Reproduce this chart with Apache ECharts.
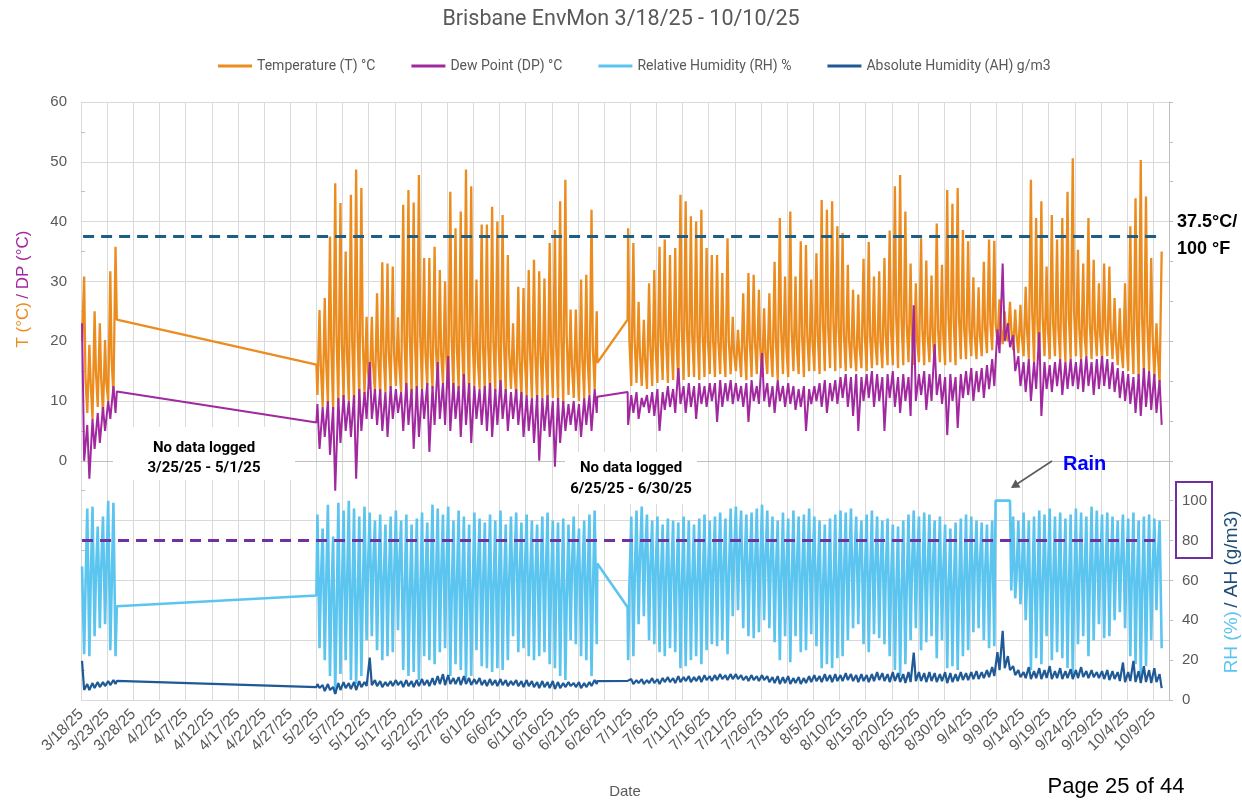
<!DOCTYPE html>
<html>
<head>
<meta charset="utf-8">
<script src="https://cdn.jsdelivr.net/npm/echarts@6/dist/echarts.min.js"></script>
<style>
html,body{margin:0;padding:0;background:#fff;}
#main{width:1242px;height:801px;}
</style>
</head>
<body>
<div id="main"></div>
<script>
// ---- x axis tick labels (every 5 days from 3/18/25) ----
const dateLabels = ['3/18/25','3/23/25','3/28/25','4/2/25','4/7/25','4/12/25','4/17/25','4/22/25','4/27/25','5/2/25',
  '5/7/25','5/12/25','5/17/25','5/22/25','5/27/25','6/1/25','6/6/25','6/11/25','6/16/25','6/21/25',
  '6/26/25','7/1/25','7/6/25','7/11/25','7/16/25','7/21/25','7/26/25','7/31/25','8/5/25','8/10/25',
  '8/15/25','8/20/25','8/25/25','8/30/25','9/4/25','9/9/25','9/14/25','9/19/25','9/24/25','9/29/25',
  '10/4/25','10/9/25'];

// logged segments: first day index (days since 3/18/25)
const segStart = [0, 45, 104];

// Temperature: daily highs, early-morning lows, evening readings (°C)
const tempHigh = [
  [30.8,19.4,25,23,20.2,31.7,35.8],
  [25.2,27.2,37.5,46.4,43.1,35,44.5,48.7,45.6,24.1, 24.1,28,33.2,33,32.5,24,42.8,45.3,43.2,47.8,
   33.9,33.9,35.8,31.9,30,45,38.9,41.7,48.7,45.9, 30.3,39.5,39.5,42.5,40,41.1,34.4,23,29.1,28.9,
   31.9,33.6,31.7,30.5,36.4,38.6,43.4,47,25.3,25.3, 30.3,31.1,42,25],
  [38.9,36.4,26.6,23.6,29.7,31.9,35.8,37,34.4,35.6, 44.5,43.4,40.9,40,42,35.6,34.4,34.4,31.4,37.2,
   24.1,21.9,28,31.4,31.1,28.6,25.5,28,33.3,40.6, 30.8,41.7,30.8,36.7,36.1,30.3,34.7,43.6,42,43.4,
   39.2,38.1,32.8,28.6,27.8,33.8,36.6,30.8,31.7,33.9, 38.5,45.9,47.8,41.7,33,29.7,37.2,33.5,31,39.7,
   32.8,45.3,43,45.6,38.6,36.7,30.7,29,33.3,37, 36.8,27,25,26.6,25.3,26.1,29.1,47,40.6,43.4,
   32.5,41.1,37,40.6,45,50.6,35.3,33,40.6,33.6, 29.7,33,32.5,27.2,25.5,29.7,39.2,43.9,50.3,44.2,
   33.9,23,35]
];
const tempLow = [
  [20,8,7,9,8,10,11],
  [11,9,9.5,8.5,9.5,10.5,10,9.5,10,11, 12,11.5,11,11.5,12,12.5,11.5,11,11,10.5,
   12,12.5,12,12.5,13,12,11.5,12,11,11, 12.5,12,11.5,11,11.5,11,11.5,12,11,10.5,
   11,10.5,10,10.5,10,10.5,10,9.5,11,10.5, 10,10.5,11,12],
  [null,12.5,13,12.5,12,12.5,13,13.5,13,13.5, 13,13.5,14,14,13.5,14,14.5,14,14.5,14,
   14.5,15,14,13.5,14,14.5,14,14.5,14,13.5, 14.5,14,15,14.5,14,15,15,14.5,15,15.5,
   15,15.5,15,15.5,15,15.5,15,15.5,16,15.5, 16,16,15.5,16,16.5,16,16.5,16,16.5,16,
   16.5,16,16.5,16,17,17,17.5,17,17.5,18, 18.5,20,19.5,20,18.5,18,17.5,17,16.5,17,
   17.5,17,17.5,17,16.5,17,17.5,17,17.5,17, 17.5,17,17.5,17,16,15.5,15,14.5,14,14.5,
   15,14,13]
];
const tempEve = [
  [14,13,15,14,13,17,null],
  [16,17,19,21,20,18,20,22,21,15, 16,17,18,18,18,16,20,21,20,21,
   18,18,19,18,17,21,19,20,22,21, 17,19,19,20,19,20,18,15,17,17,
   18,18,18,17,19,19,20,21,16,16, 17,17,19,null],
  [20,20,18,17,19,19,20,20,20,20, 22,22,21,21,21,20,20,20,19,20,
   18,18,19,20,20,19,18,19,20,22, 19,22,19,21,21,20,21,23,22,23,
   22,21,20,19,19,21,21,20,20,21, 22,24,24,23,21,20,22,21,21,22,
   21,24,23,24,22,22,21,21,22,23, 23,22,21,22,21,21,22,25,23,24,
   22,23,22,23,24,25,22,21,23,22, 21,22,22,20,19,20,22,23,24,23,
   21,18,null]
];
const tempGapEnds = [[6.85,23.6],[45.0,16.1],[98.7,16.4],[104.5,23.6]];

// Dew point daily highs / lows (°C)
const dewHigh = [
  [23,6,7,8,9,10,12.5],
  [9.5,9,10,9,10.5,11,10,11,12,11.5, 16.5,12,12,11.5,12.5,12,11.5,13,12,12.5,
   12,13,12.5,16.5,13,17.5,13,12.5,14.5,13, 12.5,12,12.5,13,12,13.5,12,11.5,12,11.5,
   11,10.5,11,10.5,11,10,10.5,10,9.5,10, 9.5,10.5,11,12],
  [null,11,11.5,10.5,11,11.5,12,11.5,12.5,12, 15.5,12.5,13,12.5,13,12.5,13,13,13.5,13,
   13.5,13,12.5,13,13.5,12.5,18,13,12.5,13.5, 12.5,13,12.5,12,12.5,12,12.5,13,13.5,13,
   13.5,14,14.5,14,14.5,14,14.5,15,14.5,14, 14.5,15,14,14.5,14,26,14.5,15,14.5,19.5,
   14.5,14,14.5,14,14.5,15,15.5,15,15.5,16, 17,22,33,23,21,17.5,16.5,17,16.5,21.5,
   16.5,16,16.5,17,16.5,17,16.5,17,17.5,16.5, 17,17.5,17,16.5,15.5,15,14.5,14,14.5,15.5,
   15,14.5,13.5]
];
const dewLow = [
  [0,-3,2,3,5,7,8],
  [2,4,1,-5,3,5,4,-3,5,7, 7,6,5,4,7,8,5,6,2,4,
   7,1.5,6,7,6,5,7,4,6,3, 7,6,5,4,6,7,5,7,6,4,
   5,3,0,5,4,-1,3,5,6,5, 4,6,5,8],
  [6,8,7,9,8,7.5,5,8.5,9,8, 9.5,8,9,7,9.5,9,10,6.5,9,10,
   9.5,10,9,6.5,10,9.5,10,9,8,10, 9,9.5,8.5,9,5,9.5,10,9,8,10,
   9.5,10.5,9,7.5,5,10,10.5,9,10,5, 10.5,9,8,10,7.5,10,11,8.5,10,11,
   9.5,4.3,10,5.5,10.5,11,10,11.5,10.5,12, 12.5,18,20,19,15,12.5,11.5,10,12,7.5,
   12,11.5,12.5,11,12,12.5,12,11.5,12.5,11, 12,12.5,12,11.5,10.5,10,9.5,8,7.5,9,
   8.5,8,6]
];
const dewGapEnds = [[6.85,11.6],[45.0,6.4],[98.7,10.7],[104.5,11.5]];

// Relative humidity: daily highs, afternoon lows, evening readings (%)
const rhHigh = [
  [67,96,97,87,92,100,99],
  [93,86,98,82,99,95,100,96,92,97, 94,90,93,88,92,95,90,93,88,91,
   94,89,98,96,93,97,90,95,92,88, 94,91,89,93,90,95,88,92,94,89,
   93,90,88,92,94,90,89,91,88,92, 86,90,93,95],
  [null,92,95,97,93,90,92,88,91,90, 89,92,90,88,91,93,90,92,94,91,
   96,97,95,93,94,96,98,95,92,90, 94,91,95,92,93,96,92,90,88,91,
   93,95,94,96,92,90,93,95,92,90, 91,88,87,90,93,95,92,94,93,90,
   92,88,86,89,91,93,92,90,89,88, 90,100,100,100,92,90,94,90,92,95,
   93,96,92,94,91,93,96,94,92,97, 95,93,94,92,90,93,91,94,90,92,
   93,91,90]
];
const rhLow = [
  [23,22,32,36,38,25,22],
  [26,20,12,3,13,20,10,8,12,30, 32,25,20,22,24,35,15,12,14,10,
   22,20,18,24,26,12,18,15,10,12, 25,17,16,14,16,15,20,32,24,26,
   22,20,22,24,18,16,12,10,30,28, 22,20,12,28],
  [20,22,38,42,30,28,24,22,26,24, 16,17,20,22,18,25,28,27,30,23,
   42,45,36,32,31,34,40,36,29,20, 32,19,32,24,25,33,27,16,18,16,
   21,22,30,36,38,28,24,33,31,28, 22,15,12,18,30,36,25,29,32,21,
   30,16,17,15,22,25,34,36,30,26, 27,100,100,100,51,48,40,15,21,18,
   32,20,24,21,16,12,28,32,22,30, 38,31,32,40,44,36,22,18,12,17,
   30,45,26]
];
const rhEve = [
  [55,58,62,65,64,55,null],
  [58,55,48,40,50,55,50,45,50,65, 66,60,58,60,60,68,52,50,52,48,
   60,60,58,62,64,50,56,54,48,50, 62,56,56,54,55,54,58,68,62,64,
   60,60,60,62,56,55,52,48,66,66, 62,60,52,null],
  [58,60,70,72,66,64,60,60,62,60, 54,55,58,58,56,62,63,64,66,60,
   72,74,68,66,65,66,70,68,64,58, 66,56,66,60,62,66,62,54,55,54,
   58,60,64,68,70,62,60,66,65,63, 58,52,50,55,64,68,60,63,65,58,
   64,54,55,52,58,60,66,68,64,62, 100,100,100,55,62,60,58,54,56,55,
   62,56,58,56,54,52,60,62,58,62, 66,62,63,66,68,64,58,56,52,55,
   62,70,null]
];
const rhGapEnds = [[6.85,47],[45.0,52.4],[98.7,68.5],[104.5,46.5]];

// Absolute humidity daily highs / lows (g/m3)
const ahHigh = [
  [19.6,8,8.5,9,9,9.5,10],
  [8,7.5,8,6.5,8.5,9,8.5,9,9.5,9, 21.3,10,9.5,9,9.5,10,9.5,10,9.5,10,
   10.5,10,11,12,13,12.5,11,11.5,12,11, 10.5,11,10,10.5,10,10.5,10,9.5,10,9.5,
   10,9.5,9,9.5,9,9.5,9,8.5,9,8.5, 9,8.5,9,10],
  [null,10.5,10,10.5,10,11,10.5,11,11.5,11, 12,11.5,12,11.5,12,12.5,12,12.5,13,12.5,
   13,13,12.5,12,12.5,12,12.5,12,11.5,12, 11.5,12,11,11.5,11,12,12.5,12,13,12.5,
   13,12.5,13.5,13,12.5,13,12.5,13,14,13.5, 13,14,13.5,13,14,23.8,14,13.5,14,13.5,
   13,14,13.5,13,14,13.5,14,14.5,14,15, 16.5,24,34.7,22,17,15,14,16.5,14.5,16,
   15,17,14.5,16,14.5,15.5,15,16.5,14.5,15, 14,14.5,15,14.5,14,18.8,14,19.6,14.5,17,
   15,16,13]
];
const ahLow = [
  [5,5,6,6.5,7,7.5,8],
  [6,4.5,5,3,5,6,5.5,5,6.5,7, 7.5,7,6.5,7,7,7.5,6.5,7,6.5,7,
   7.5,7,7.5,8,7.5,8,8,7.5,8,7.5, 8,7.5,7,7.5,7,7.5,7,7.5,7,6.5,
   7,6.5,6,6.5,6,5.5,6,6.5,7,6.5, 6,6.5,7,8],
  [9,8,8.5,8,8.5,8.5,8,9,9,8.5, 9,9.5,9,9.5,9,10,9.5,10,10.5,10,
   10.5,10.5,10,9.5,10,9.5,10,9,8.5,8, 8.5,8,8.5,8,8.5,9,9.5,9,9.5,9,
   9.5,9.5,10,9.5,9,9.5,9,9.5,10,9.5, 9,9.5,9,8.5,9,9.5,9.5,9,9.5,9,
   9.5,8.5,9,9.5,10,10,10.5,10.5,11,11.5, 12,15,16,15,12.5,11.5,11,10.5,11,10.5,
   11,10.5,11,10.5,11,10.5,11,11.5,11,11.5, 11,10.5,10,10.5,9.5,9,9.5,9,8.5,9,
   8.5,9,6]
];
const ahGapEnds = [[6.85,9.6],[45.0,6.5],[98.7,9.5],[104.5,9.6]];

// reference thresholds
const tempLimit = 37.5;
const rhLimit = 80;

// readings of each day: [values, fraction of the day]
function build(parts, ends) {
  const pts = [];
  parts.forEach(([arr, off]) => {
    segStart.forEach((s, k) => {
      arr[k].forEach((v, i) => { if (v !== null) pts.push([s + i + off, v]); });
    });
  });
  ends.forEach(e => pts.push(e.slice()));
  pts.sort((a, b) => a[0] - b[0]);
  return pts;
}

const C_T = '#EC8C1E', C_DP = '#A1289F', C_RH = '#5BC5F0', C_AH = '#1F5A96';
const GRAY = '#595959';
const NARROW = 'Roboto';

const chart = echarts.init(document.getElementById('main'));
const option = {
  animation: false,
  backgroundColor: '#fff',
  title: {
    text: 'Brisbane EnvMon 3/18/25 - 10/10/25',
    left: 'center', top: 4,
    textStyle: { fontFamily: NARROW, fontSize: 21.5, fontWeight: 'normal', color: GRAY }
  },
  legend: {
    top: 54, left: 213,
    icon: 'rect', itemWidth: 34, itemHeight: 3, itemGap: 36,
    textStyle: { fontFamily: NARROW, fontSize: 14, color: GRAY }
  },
  grid: { left: 81, right: 73, top: 102, bottom: 101, containLabel: false, outerBoundsMode: 'none' },
  xAxis: {
    type: 'value', min: 0, max: 208, interval: 5,
    name: 'Date', nameLocation: 'middle', nameGap: 84,
    nameTextStyle: { fontFamily: 'Liberation Sans', fontSize: 15, color: GRAY },
    axisLine: { show: true, lineStyle: { color: '#bfbfbf', width: 1 } },
    axisTick: { show: false },
    splitLine: { show: true, lineStyle: { color: '#d9d9d9', width: 1 } },
    axisLabel: {
      rotate: 45, margin: 12, color: GRAY, fontFamily: 'Liberation Sans', fontSize: 15.5,
      formatter: v => { const i = v / 5; return (Number.isInteger(i) && i < dateLabels.length) ? dateLabels[i] : ''; }
    }
  },
  yAxis: [
    {
      type: 'value', min: -40, max: 60, interval: 10, position: 'left',
      axisLine: { show: false },
      axisTick: { show: false, inside: true },
      minorTick: { show: true, splitNumber: 2, length: 4, lineStyle: { color: '#bfbfbf' } },
      splitLine: { show: true, lineStyle: { color: '#d9d9d9', width: 1 } },
      axisLabel: { margin: 14, color: GRAY, fontFamily: 'Liberation Sans', fontSize: 15,
        formatter: v => (v >= 0 ? String(v) : '') }
    },
    {
      type: 'value', min: 0, max: 300, interval: 20, position: 'right',
      axisLine: { show: true, lineStyle: { color: '#bfbfbf' } },
      axisTick: { show: true, length: 4, lineStyle: { color: '#bfbfbf' } },
      splitLine: { show: false },
      axisLabel: { margin: 13, color: GRAY, fontFamily: 'Liberation Sans', fontSize: 15,
        formatter: v => (v <= 100 ? String(v) : '') }
    }
  ],
  series: [
    {
      name: 'Temperature (T) °C', type: 'line', yAxisIndex: 0, showSymbol: false, symbol: 'none',
      data: build([[tempLow, 0.2], [tempHigh, 0.6], [tempEve, 0.85]], tempGapEnds),
      lineStyle: { color: C_T, width: 2.3 }, itemStyle: { color: C_T }, z: 2,
      markLine: {
        silent: true, symbol: ['none', 'none'], label: { show: false },
        lineStyle: { color: '#1D5F84', width: 3, type: [11, 7] },
        data: [[{ coord: [0.4, tempLimit] }, { coord: [206.3, tempLimit] }]]
      }
    },
    {
      name: 'Dew Point (DP) °C', type: 'line', yAxisIndex: 0, showSymbol: false, symbol: 'none',
      data: build([[dewHigh, 0.2], [dewLow, 0.6]], dewGapEnds),
      lineStyle: { color: C_DP, width: 2 }, itemStyle: { color: C_DP }, z: 3
    },
    {
      name: 'Relative Humidity (RH) %', type: 'line', yAxisIndex: 1, showSymbol: false, symbol: 'none',
      data: build([[rhHigh, 0.2], [rhLow, 0.6], [rhEve, 0.85]], rhGapEnds),
      lineStyle: { color: C_RH, width: 2.6 }, itemStyle: { color: C_RH }, z: 4,
      markLine: {
        silent: true, symbol: ['none', 'none'], label: { show: false },
        lineStyle: { color: '#7030A0', width: 3, type: [11, 7] },
        data: [[{ coord: [0.2, rhLimit] }, { coord: [206.3, rhLimit] }]]
      }
    },
    {
      name: 'Absolute Humidity (AH) g/m3', type: 'line', yAxisIndex: 1, showSymbol: false, symbol: 'none',
      data: build([[ahHigh, 0.2], [ahLow, 0.6]], ahGapEnds),
      lineStyle: { color: C_AH, width: 2.2 }, itemStyle: { color: C_AH }, z: 5
    }
  ],
  graphic: [
    { type: 'text', x: 23, y: 289, rotation: Math.PI / 2, z: 100,
      style: { text: '{o|T (°C)} {p|/ DP (°C)}', align: 'center', verticalAlign: 'middle',
        rich: { o: { fill: C_T, fontSize: 17, fontFamily: 'Liberation Sans' },
                p: { fill: C_DP, fontSize: 17, fontFamily: 'Liberation Sans' } } } },
    { type: 'text', x: 1232, y: 592, rotation: Math.PI / 2, z: 100,
      style: { text: '{a|RH (%)} {b|/ AH (g/m3)}', align: 'center', verticalAlign: 'middle',
        rich: { a: { fill: C_RH, fontSize: 19, fontFamily: 'Liberation Sans' },
                b: { fill: '#1F4E79', fontSize: 19, fontFamily: 'Liberation Sans' } } } },
    { type: 'rect', z: 100, shape: { x: 1176, y: 482, width: 36, height: 76 },
      style: { fill: 'none', stroke: '#7030A0', lineWidth: 2 } },
    { type: 'rect', z: 90, shape: { x: 113, y: 427, width: 182, height: 53 }, style: { fill: '#fff' } },
    { type: 'text', x: 204, y: 448, z: 100,
      style: { text: 'No data logged', align: 'center', verticalAlign: 'middle', fill: '#000',
        font: 'bold 15px Roboto' } },
    { type: 'text', x: 204, y: 468, z: 100,
      style: { text: '3/25/25 - 5/1/25', align: 'center', verticalAlign: 'middle', fill: '#000',
        font: 'bold 15px Roboto' } },
    { type: 'rect', z: 90, shape: { x: 565, y: 452, width: 132, height: 52 }, style: { fill: '#fff' } },
    { type: 'text', x: 631, y: 468, z: 100,
      style: { text: 'No data logged', align: 'center', verticalAlign: 'middle', fill: '#000',
        font: 'bold 15px Roboto' } },
    { type: 'text', x: 631, y: 489, z: 100,
      style: { text: '6/25/25 - 6/30/25', align: 'center', verticalAlign: 'middle', fill: '#000',
        font: 'bold 15px Roboto' } },
    { type: 'text', x: 1177, y: 222, z: 100,
      style: { text: '37.5°C/', align: 'left', verticalAlign: 'middle', fill: '#000',
        font: 'bold 18px "Liberation Sans"' } },
    { type: 'text', x: 1177, y: 249, z: 100,
      style: { text: '100 °F', align: 'left', verticalAlign: 'middle', fill: '#000',
        font: 'bold 18px "Liberation Sans"' } },
    { type: 'text', x: 1063, y: 464, z: 100,
      style: { text: 'Rain', align: 'left', verticalAlign: 'middle', fill: '#0000FF',
        font: 'bold 20px "Liberation Sans"' } },
    { type: 'line', z: 100, shape: { x1: 1052, y1: 461, x2: 1017, y2: 484 },
      style: { stroke: GRAY, lineWidth: 1.5 } },
    { type: 'polygon', z: 100, shape: { points: [[1011, 488], [1015.5, 479.5], [1020.5, 487.5]] },
      style: { fill: GRAY } },
    { type: 'text', x: 1116, y: 787, z: 100,
      style: { text: 'Page 25 of 44', align: 'center', verticalAlign: 'middle', fill: '#000',
        font: '22px "Liberation Sans"' } }
  ]
};
chart.setOption(option);
</script>
</body>
</html>
